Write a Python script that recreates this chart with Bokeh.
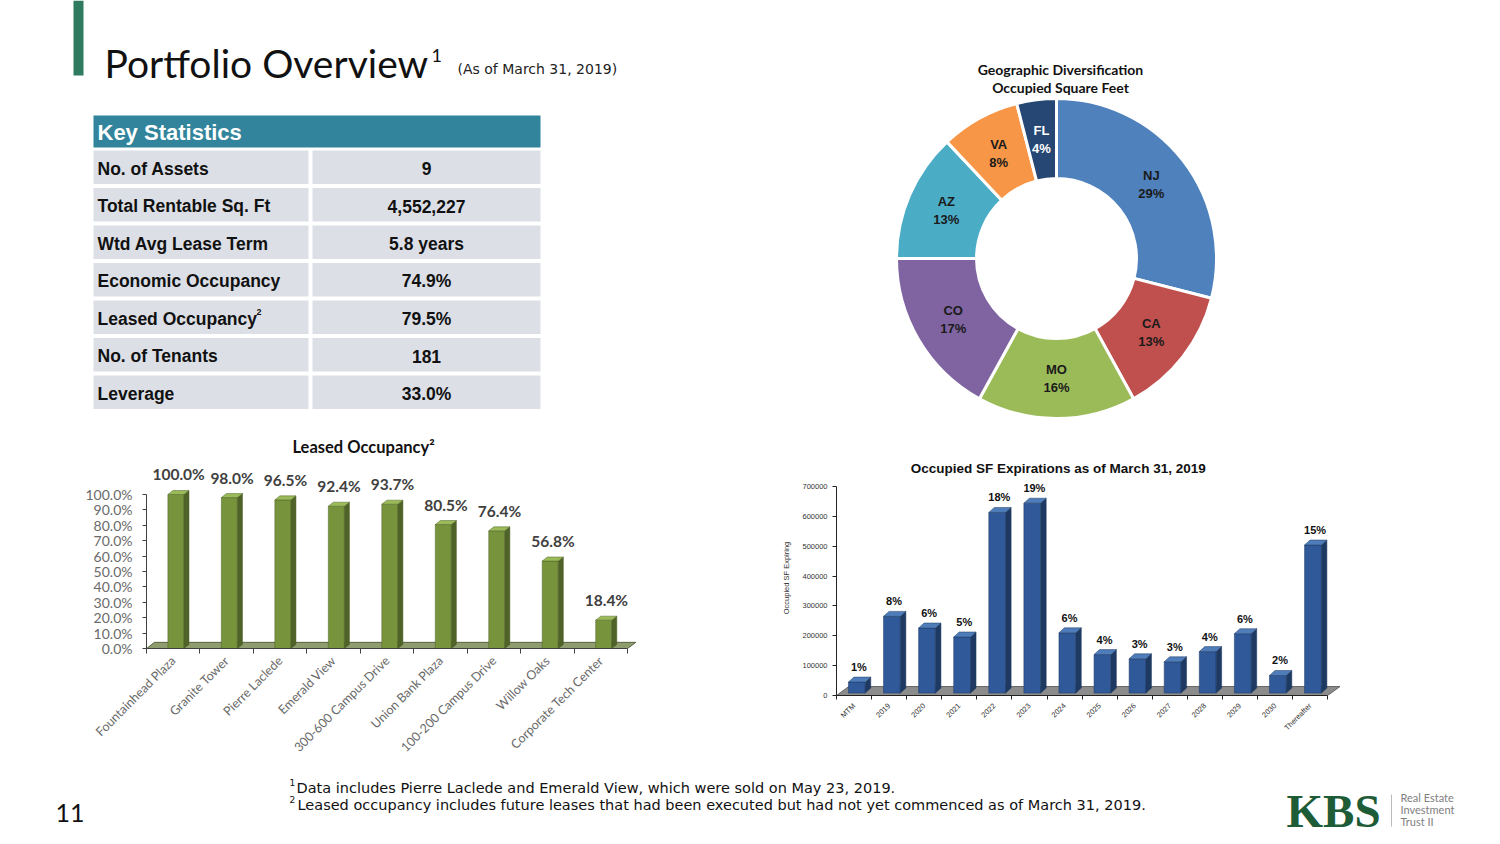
import math
import numpy as np
from bokeh.plotting import figure
from bokeh.models import Range1d, FixedTicker, PrintfTickFormatter, BasicTickFormatter
from bokeh.layouts import column, row
from bokeh.embed import file_html
from bokeh.resources import INLINE
from bokeh.core.properties import value

# ---------------- data ----------------
stat_labels = ["No. of Assets", "Total Rentable Sq. Ft", "Wtd Avg Lease Term",
               "Economic Occupancy", "Leased Occupancy", "No. of Tenants", "Leverage"]
stat_values = ["9", "4,552,227", "5.8 years", "74.9%", "79.5%", "181", "33.0%"]

geo_states = ["NJ", "CA", "MO", "CO", "AZ", "VA", "FL"]
geo_shares = [29, 13, 16, 17, 13, 8, 4]
geo_colors = ["#4F81BD", "#C0504D", "#9BBB59", "#8064A2", "#4BACC6", "#F79646", "#264773"]
geo_text_colors = ["#1A1A1A", "#1A1A1A", "#1A1A1A", "#1A1A1A", "#1A1A1A", "#1A1A1A", "#FFFFFF"]

occ_properties = ["Fountainhead Plaza", "Granite Tower", "Pierre Laclede", "Emerald View",
                  "300-600 Campus Drive", "Union Bank Plaza", "100-200 Campus Drive",
                  "Willow Oaks", "Corporate Tech Center"]
occ_values = [100.0, 98.0, 96.5, 92.4, 93.7, 80.5, 76.4, 56.8, 18.4]
occ_ticks = [0, 10, 20, 30, 40, 50, 60, 70, 80, 90, 100]

exp_years = ["MTM", "2019", "2020", "2021", "2022", "2023", "2024", "2025", "2026",
             "2027", "2028", "2029", "2030", "Thereafter"]
exp_sf = [45000, 265000, 226000, 196000, 613000, 644000, 210000, 137000, 123000,
          113000, 147000, 207000, 67000, 504000]
exp_pct = ["1%", "8%", "6%", "5%", "18%", "19%", "6%", "4%", "3%", "3%", "4%", "6%", "2%", "15%"]
exp_ticks = [0, 100000, 200000, 300000, 400000, 500000, 600000, 700000]

W = 1490


def S(y):
    # screen y (top-down) -> data y (bottom-up) for the canvas figures
    return 844 - y


def canvas(w, h, x0, x1, y0, y1):
    p = figure(width=w, height=h, x_range=Range1d(x0, x1), y_range=Range1d(y0, y1),
               output_backend="svg", toolbar_location=None, min_border=0,
               x_axis_location=None, y_axis_location=None)
    p.grid.visible = False
    p.outline_line_color = None
    p.background_fill_color = "white"
    p.border_fill_color = "white"
    p.frame_align = False
    return p


# ---------------- top row: title, table, donut ----------------
top = canvas(W, 425, 0, W, S(425), S(0))

top.quad(left=[73], right=[83], top=[S(0)], bottom=[S(75)], fill_color="#2E7B5F", line_color=None)
top.text(x=[104], y=[S(62)], text=["Portfolio Overview"], text_font=value("Lato"),
         text_font_size="39px", text_baseline="middle", text_color="#111111")
top.text(x=[431], y=[S(55)], text=["1"], text_font=value("Lato"),
         text_font_size="18px", text_baseline="middle", text_color="#111111")
top.text(x=[457], y=[S(68)], text=["(As of March 31, 2019)"], text_font=value("DejaVu Sans"),
         text_font_size="14px", text_baseline="middle", text_color="#222222")

# table
top.quad(left=[93], right=[540], top=[S(115)], bottom=[S(147)], fill_color="#31849B", line_color=None)
top.text(x=[97], y=[S(132)], text=["Key Statistics"], text_font=value("Liberation Sans"),
         text_font_style="bold", text_font_size="22px", text_baseline="middle", text_color="white")
n = len(stat_labels)
row_top = [150 + 37.5 * i for i in range(n)]
top.quad(left=[93] * n, right=[308] * n, top=[S(t) for t in row_top],
         bottom=[S(t + 33.5) for t in row_top], fill_color="#DCE0E6", line_color=None)
top.quad(left=[312] * n, right=[540] * n, top=[S(t) for t in row_top],
         bottom=[S(t + 33.5) for t in row_top], fill_color="#DCE0E6", line_color=None)
top.text(x=[97] * n, y=[S(t + 18) for t in row_top], text=stat_labels,
         text_font=value("Liberation Sans"), text_font_style="bold", text_font_size="17.5px",
         text_baseline="middle", text_color="#111111")
top.text(x=[426] * n, y=[S(t + 18) for t in row_top], text=stat_values,
         text_font=value("Liberation Sans"), text_font_style="bold", text_font_size="17.5px",
         text_baseline="middle", text_align="center", text_color="#111111")
lo = stat_labels.index("Leased Occupancy")
top.text(x=[256], y=[S(row_top[lo] + 11)], text=["2"], text_font=value("Liberation Sans"),
         text_font_style="bold", text_font_size="9px", text_baseline="middle", text_color="#111111")

# donut
cx, cy = 1056, S(258)
cum = np.cumsum([0] + geo_shares)
starts = 90 - cum[:-1] * 3.6
ends = 90 - cum[1:] * 3.6
top.annular_wedge(x=cx, y=cy, inner_radius=80, outer_radius=160,
                  start_angle=list(starts), end_angle=list(ends), direction="clock",
                  start_angle_units="deg", end_angle_units="deg",
                  fill_color=geo_colors, line_color="white", line_width=3)
mid = np.radians((starts + ends) / 2)
lx = cx + 120 * np.cos(mid)
ly = cy + 120 * np.sin(mid)
top.text(x=list(lx), y=list(ly + 9), text=geo_states, text_font=value("Liberation Sans"),
         text_font_style="bold", text_font_size="13px", text_align="center",
         text_baseline="middle", text_color=geo_text_colors)
top.text(x=list(lx), y=list(ly - 9), text=[f"{s}%" for s in geo_shares],
         text_font=value("Liberation Sans"), text_font_style="bold", text_font_size="13px",
         text_align="center", text_baseline="middle", text_color=geo_text_colors)
top.text(x=[1060, 1060], y=[S(69), S(87)],
         text=["Geographic Diversification", "Occupied Square Feet"],
         text_font=value("Lato"), text_font_style="bold", text_font_size="14px",
         text_align="center", text_baseline="middle", text_color="#111111")


def bars3d(p, centers, vals, w, dx, dy, base, front, side, topc):
    l = [c - w / 2 for c in centers]
    r = [c + w / 2 for c in centers]
    p.quad(left=l, right=r, bottom=[base] * len(vals), top=vals,
           fill_color=front, line_color=side, line_width=0.5)
    p.patches(xs=[[ri, ri + dx, ri + dx, ri] for ri in r],
              ys=[[base, base + dy, v + dy, v] for v in vals],
              fill_color=side, line_color=side, line_width=0.5)
    p.patches(xs=[[li, li + dx, ri + dx, ri] for li, ri in zip(l, r)],
              ys=[[v, v + dy, v + dy, v] for v in vals],
              fill_color=topc, line_color=side, line_width=0.5)


# ---------------- leased occupancy chart ----------------
occ = figure(width=650, height=340, x_range=Range1d(-0.5, 8.85), y_range=Range1d(0, 137),
             min_border_left=146, min_border_right=4, min_border_top=12, min_border_bottom=117,
             output_backend="svg", toolbar_location=None)
occ.frame_align = False
occ.grid.visible = False
occ.outline_line_color = None
oc = list(range(len(occ_values)))
occ.patch(x=[-0.5, 8.5, 8.65, -0.35], y=[0, 0, 4, 4], fill_color="#8E9C6E", line_color="#3F4A2A",
          line_width=0.8)
bars3d(occ, [c + 0.05 for c in oc], occ_values, 0.30, 0.095, 2.6, 0,
       "#77933C", "#4F6228", "#9BBB59")
occ.text(x=[c + 0.1 for c in oc], y=occ_values, text=[f"{v:.1f}%" for v in occ_values],
         y_offset=-11, text_font=value("Lato"), text_font_style="bold", text_font_size="15.5px",
         text_align="center", text_baseline="bottom", text_color="#404040")
occ.text(x=[3.56], y=[131], text=["Leased Occupancy²"], text_font=value("Lato"),
         text_font_style="bold", text_font_size="16.5px", text_align="center",
         text_baseline="middle", text_color="#111111")
occ.yaxis.ticker = FixedTicker(ticks=occ_ticks)
occ.yaxis.formatter = PrintfTickFormatter(format="%.1f%%")
occ.yaxis.bounds = (0, 100)
occ.xaxis.ticker = FixedTicker(ticks=oc, minor_ticks=[c - 0.5 for c in oc] + [8.5])
occ.xaxis.major_label_overrides = {c: name for c, name in zip(oc, occ_properties)}
occ.xaxis.bounds = (-0.5, 8.5)
occ.xaxis.major_label_orientation = math.pi / 4
for ax in (occ.xaxis[0], occ.yaxis[0]):
    ax.axis_line_color = "#404040"
    ax.major_tick_line_color = "#404040"
    ax.minor_tick_line_color = "#404040"
    ax.major_label_text_font = "Lato"
    ax.major_label_text_color = "#6A6A6A"
occ.yaxis.major_label_text_font_size = "14px"
occ.xaxis.major_label_text_font_size = "12.5px"
occ.yaxis.major_label_standoff = 10
occ.yaxis.major_tick_out = 4
occ.yaxis.major_tick_in = 0
occ.yaxis.minor_tick_out = 0
occ.yaxis.minor_tick_in = 0
occ.xaxis.major_tick_out = 0
occ.xaxis.major_tick_in = 0
occ.xaxis.minor_tick_out = 5
occ.xaxis.minor_tick_in = 0

# ---------------- expirations chart ----------------
exp = figure(width=840, height=340, x_range=Range1d(-0.5, 13.95), y_range=Range1d(0, 787000),
             min_border_left=186, min_border_right=147, min_border_top=35, min_border_bottom=70,
             output_backend="svg", toolbar_location=None)
exp.frame_align = False
exp.grid.visible = False
exp.outline_line_color = None
ec = list(range(len(exp_sf)))
exp.patch(x=[-0.5, 13.5, 13.85, -0.15], y=[0, 0, 30000, 30000], fill_color="#8C8C8C",
          line_color="#4D4D4D", line_width=0.8)
bars3d(exp, [c + 0.08 for c in ec], exp_sf, 0.48, 0.157, 16700, 8000,
       "#30599A", "#1E3A63", "#4F7DBA")
exp.text(x=[c + 0.14 for c in ec], y=exp_sf, text=exp_pct, y_offset=-9,
         text_font=value("Liberation Sans"), text_font_style="bold", text_font_size="11px",
         text_align="center", text_baseline="bottom", text_color="#111111")
exp.text(x=[5.82], y=[760000], text=["Occupied SF Expirations as of March 31, 2019"],
         text_font=value("Liberation Sans"), text_font_style="bold", text_font_size="13.5px",
         text_align="center", text_baseline="middle", text_color="#111111")
exp.yaxis.ticker = FixedTicker(ticks=exp_ticks)
exp.yaxis.formatter = BasicTickFormatter(use_scientific=False)
exp.yaxis.bounds = (0, 700000)
exp.yaxis.axis_label = "Occupied SF Expiring"
exp.yaxis.axis_label_text_font = "Liberation Sans"
exp.yaxis.axis_label_text_font_size = "7.5px"
exp.yaxis.axis_label_text_font_style = "normal"
exp.yaxis.axis_label_text_color = "#333333"
exp.yaxis.axis_label_standoff = 8
exp.xaxis.ticker = FixedTicker(ticks=ec, minor_ticks=[c - 0.5 for c in ec] + [13.5])
exp.xaxis.major_label_overrides = {c: name for c, name in zip(ec, exp_years)}
exp.xaxis.bounds = (-0.5, 13.5)
exp.xaxis.major_label_orientation = math.pi / 4
for ax in (exp.xaxis[0], exp.yaxis[0]):
    ax.axis_line_color = "#222222"
    ax.major_tick_line_color = "#222222"
    ax.minor_tick_line_color = "#222222"
    ax.major_label_text_font = "Liberation Sans"
    ax.major_label_text_font_size = "7.5px"
    ax.major_label_text_color = "#333333"
exp.yaxis.major_tick_out = 4
exp.yaxis.major_tick_in = 0
exp.yaxis.minor_tick_out = 0
exp.yaxis.minor_tick_in = 0
exp.xaxis.major_tick_out = 0
exp.xaxis.major_tick_in = 0
exp.xaxis.minor_tick_out = 4
exp.xaxis.minor_tick_in = 0

# ---------------- footer ----------------
foot = canvas(W, 75, 0, W, S(840), S(765))
foot.text(x=[289, 289], y=[S(782), S(799)], text=["1", "2"], text_font=value("DejaVu Sans"),
          text_font_size="9px", text_baseline="middle", text_color="#111111")
foot.text(x=[296, 297], y=[S(787), S(804)],
          text=["Data includes Pierre Laclede and Emerald View, which were sold on May 23, 2019.",
                "Leased occupancy includes future leases that had been executed but had not yet commenced as of March 31, 2019."],
          text_font=value("DejaVu Sans"), text_font_size="14.5px", text_baseline="middle",
          text_color="#111111")
foot.text(x=[55], y=[S(812)], text=["11"], text_font=value("Lato"), text_font_size="25px",
          text_baseline="middle", text_color="#111111")
foot.text(x=[1286], y=[S(810)], text=["KBS"], text_font=value("Liberation Serif"),
          text_font_style="bold", text_font_size="47px", text_baseline="middle",
          text_color="#1E5B37")
foot.segment(x0=[1391], y0=[S(794)], x1=[1391], y1=[S(826)], line_color="#BBBBBB", line_width=1)
foot.text(x=[1400, 1400, 1400], y=[S(797), S(809), S(821)],
          text=["Real Estate", "Investment", "Trust II"], text_font=value("Lato"),
          text_font_size="11px", text_baseline="middle", text_color="#808080")

layout = column(top, row(occ, exp), foot)
open("out.html", "w").write(file_html(layout, INLINE))
